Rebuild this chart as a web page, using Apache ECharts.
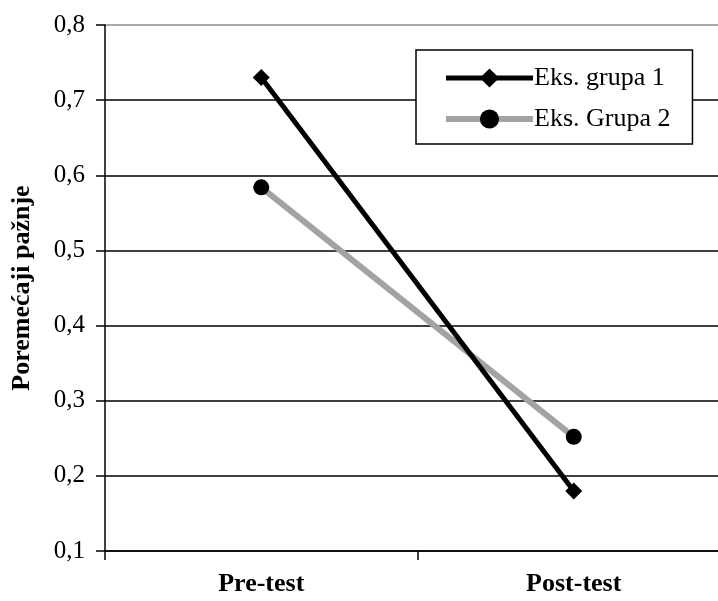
<!DOCTYPE html>
<html>
<head>
<meta charset="utf-8">
<script src="https://cdn.jsdelivr.net/npm/echarts@6/dist/echarts.min.js"></script>
<style>
  html, body { margin: 0; padding: 0; background: #fff; }
  #chart { width: 718px; height: 601px; }
</style>
</head>
<body>
<div id="chart"></div>
<script>
// podaci sa slike
const categories = ['Pre-test', 'Post-test']
const grupa1 = [0.73, 0.18]
const grupa2 = [0.584, 0.252]
const seriesNames = ['Eks. grupa 1', 'Eks. Grupa 2']
const yTicks = { min: 0.1, max: 0.8, step: 0.1 }

const serif = '"Liberation Serif", "DejaVu Serif", serif'
const chart = echarts.init(document.getElementById('chart'), null, { renderer: 'canvas' })

// zadnja linija mreze (0,8) je siva, ostale crne
const gridColors = ['#000', '#000', '#000', '#000', '#000', '#000', '#000', '#8c8c8c']

const option = {
  backgroundColor: '#fff',
  animation: false,
  grid: { left: 105, right: -12, top: 25, bottom: 50, outerBoundsMode: 'none', containLabel: false },
  legend: {
    orient: 'vertical',
    left: 416,
    top: 50,
    padding: [15, 22, 12, 27],
    itemGap: 15,
    itemWidth: 87,
    itemHeight: 24,
    backgroundColor: '#fff',
    borderColor: '#000',
    borderWidth: 1.5,
    textStyle: { fontFamily: serif, fontSize: 26, color: '#000', padding: [0, 0, 0, -4] },
    data: [
      { name: seriesNames[0], lineStyle: { width: 5 } },
      { name: seriesNames[1], lineStyle: { width: 6 } }
    ]
  },
  xAxis: {
    type: 'category',
    data: categories,
    axisLine: { lineStyle: { color: '#000', width: 1.5 } },
    axisTick: { show: true, length: 9, lineStyle: { color: '#000', width: 1.5 } },
    axisLabel: { fontFamily: serif, fontSize: 26, fontWeight: 'bold', color: '#000', margin: 20 },
    splitLine: { show: false }
  },
  yAxis: {
    type: 'value',
    min: yTicks.min,
    max: yTicks.max,
    interval: yTicks.step,
    name: 'Poremećaji pažnje',
    nameLocation: 'middle',
    nameRotate: 90,
    nameGap: 70,
    nameTextStyle: { fontFamily: serif, fontSize: 26, fontWeight: 'bold', color: '#000' },
    axisLine: { show: true, lineStyle: { color: '#000', width: 1.5 } },
    axisTick: { show: true, length: 9, lineStyle: { color: '#000', width: 1.5 } },
    axisLabel: {
      fontFamily: serif, fontSize: 25, color: '#000', margin: 20,
      formatter: v => v.toFixed(1).replace('.', ',')
    },
    splitLine: { show: true, lineStyle: { color: gridColors, width: 1.5 } }
  },
  series: [
    {
      name: seriesNames[0],
      type: 'line',
      data: grupa1,
      symbol: 'diamond',
      symbolSize: 17,
      lineStyle: { color: '#000', width: 5 },
      itemStyle: { color: '#000' },
      z: 3
    },
    {
      name: seriesNames[1],
      type: 'line',
      data: grupa2,
      symbol: 'circle',
      symbolSize: 16,
      lineStyle: { color: '#a3a3a3', width: 6 },
      itemStyle: { color: '#000' },
      z: 2
    }
  ]
}
chart.setOption(option)
</script>
</body>
</html>
